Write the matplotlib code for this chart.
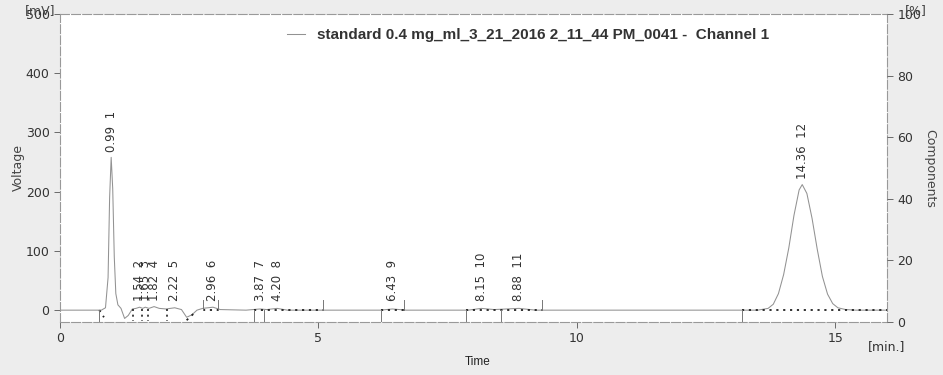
import matplotlib
matplotlib.use("Agg")
import matplotlib.pyplot as plt

# detector trace, read point by point (time in min, signal in mV)
trace_t = [0.00, 0.70, 0.80, 0.88, 0.93, 0.96, 0.99, 1.02, 1.05, 1.08, 1.12, 1.18,
           1.25, 1.32, 1.40, 1.47, 1.54, 1.60, 1.65, 1.72, 1.82, 1.92, 2.05, 2.22,
           2.35, 2.45, 2.55, 2.65, 2.76, 2.96, 3.10, 3.60, 3.87, 4.00, 4.20, 4.40,
           6.20, 6.43, 6.70, 7.90, 8.15, 8.40, 8.88, 9.20, 13.50, 13.70, 13.80,
           13.90, 14.00, 14.10, 14.20, 14.30, 14.36, 14.45, 14.55, 14.65, 14.75,
           14.85, 14.95, 15.05, 15.20, 15.40, 16.00]
trace_mv = [0, 0, 0, 4, 55, 190, 258, 205, 90, 28, 9, 3,
            -14, -9, 2, 3, 5, 3, 5, 3, 6, 3, 2, 4,
            1, -12, -8, 0, 3, 5, 1, 0, 2, 1, 3, 0,
            0, 2, 0, 0, 3, 1, 3, 0, 0, 3, 10,
            28, 60, 105, 160, 203, 212, 197, 155, 103, 57,
            27, 11, 4, 1, 0, 0]

# integration results
peak_no = [1, 2, 3, 4, 5, 6, 7, 8, 9, 10, 11, 12]
peak_rt = [0.99, 1.54, 1.65, 1.82, 2.22, 2.96, 3.87, 4.20, 6.43, 8.15, 8.88, 14.36]
peak_mv = [258, 5, 5, 6, 4, 5, 2, 3, 2, 3, 3, 212]

# drawn baselines (t0, t1, mV0, mV1)
base_t0 = [0.76, 2.45, 2.76, 3.76, 6.21, 7.86, 13.19]
base_t1 = [0.85, 2.62, 3.05, 5.08, 6.66, 9.32, 16.00]
base_v0 = [0, -17, 0, 0, 0, 0, 0]
base_v1 = [-12, -3, 0, 0, 0, 0, 0]

# peak start/stop markers
drop_marks = [0.76, 3.76, 3.94, 6.21, 7.86, 8.53, 13.19]
rise_marks = [2.76, 3.05, 5.08, 6.66, 9.32]
split_marks = [1.41, 1.58, 1.70, 2.07]

legend_text = "standard 0.4 mg_ml_3_21_2016 2_11_44 PM_0041 -  Channel 1"

W, H = 943, 375
fig = plt.figure(figsize=(W / 100, H / 100), dpi=100, facecolor="#ededed")
ax = fig.add_axes([60 / W, 1 - 322 / H, 827 / W, 308 / H])
ax.set_facecolor("white")

trace, = ax.plot(trace_t, trace_mv, color="#929292", lw=0.75, label=legend_text)

for t0, t1, v0, v1 in zip(base_t0, base_t1, base_v0, base_v1):
    ax.plot([t0, t1], [v0, v1], color="#222222", lw=1.3, ls=(0, (1.2, 2.6)))
for t in drop_marks:
    ax.plot([t, t], [0, -19], color="#777777", lw=0.7)
for t in rise_marks:
    ax.plot([t, t], [0, 17], color="#777777", lw=0.7)
for t in split_marks:
    ax.plot([t, t], [2, -19], color="#222222", lw=1.2, ls=(0, (1.2, 2.2)))

for n, t, v in zip(peak_no, peak_rt, peak_mv):
    y = v + 9 if v > 50 else 16
    ax.text(t, y, f"{t:.2f}  {n}", rotation=90, ha="center", va="bottom",
            fontsize=8.5, color="#333333")

ax.set_xlim(0, 16)
ax.set_ylim(-20, 500)
ax.set_xticks([0, 5, 10, 15])
ax.set_yticks([0, 100, 200, 300, 400, 500])
ax.tick_params(labelsize=9, colors="#555555", labelcolor="#333333", length=4, width=0.6)
for s in ax.spines.values():
    s.set_color("#999999")
    s.set_linewidth(0.8)
    s.set_linestyle((0, (8, 2)))

ax2 = ax.twinx()
ax2.set_ylim(0, 100)
ax2.set_yticks([0, 20, 40, 60, 80, 100])
ax2.tick_params(labelsize=9, colors="#555555", labelcolor="#333333", length=4, width=0.6)
for s in ax2.spines.values():
    s.set_visible(False)

ax.text(-0.005, 1.012, "[mV]", transform=ax.transAxes, ha="right", va="center",
        fontsize=9, color="#444444")
ax2.text(1.035, 1.012, "[%]", transform=ax.transAxes, ha="center", va="center",
         fontsize=9, color="#444444")

fig.text(18 / W, 1 - 168 / H, "Voltage", rotation=90, ha="center", va="center",
         fontsize=9, color="#444444")
fig.text(930 / W, 1 - 168 / H, "Components", rotation=270, ha="center", va="center",
         fontsize=9, color="#444444")
fig.text(478 / W, 1 - 362 / H, "Time", ha="center", va="center",
         fontsize=8.5, color="#222222", family="Liberation Sans")
fig.text(887 / W, 1 - 347 / H, "[min.]", ha="center", va="center",
         fontsize=9, color="#333333")

leg = ax.legend(handles=[trace], loc="center", bbox_to_anchor=(0.566, 0.932),
                frameon=False, handlelength=1.2, handletextpad=0.8,
                prop={"family": "Liberation Sans", "size": 11, "weight": "bold"})
for txt in leg.get_texts():
    txt.set_color("#333333")

fig.savefig("out.png", dpi=100, facecolor=fig.get_facecolor())
